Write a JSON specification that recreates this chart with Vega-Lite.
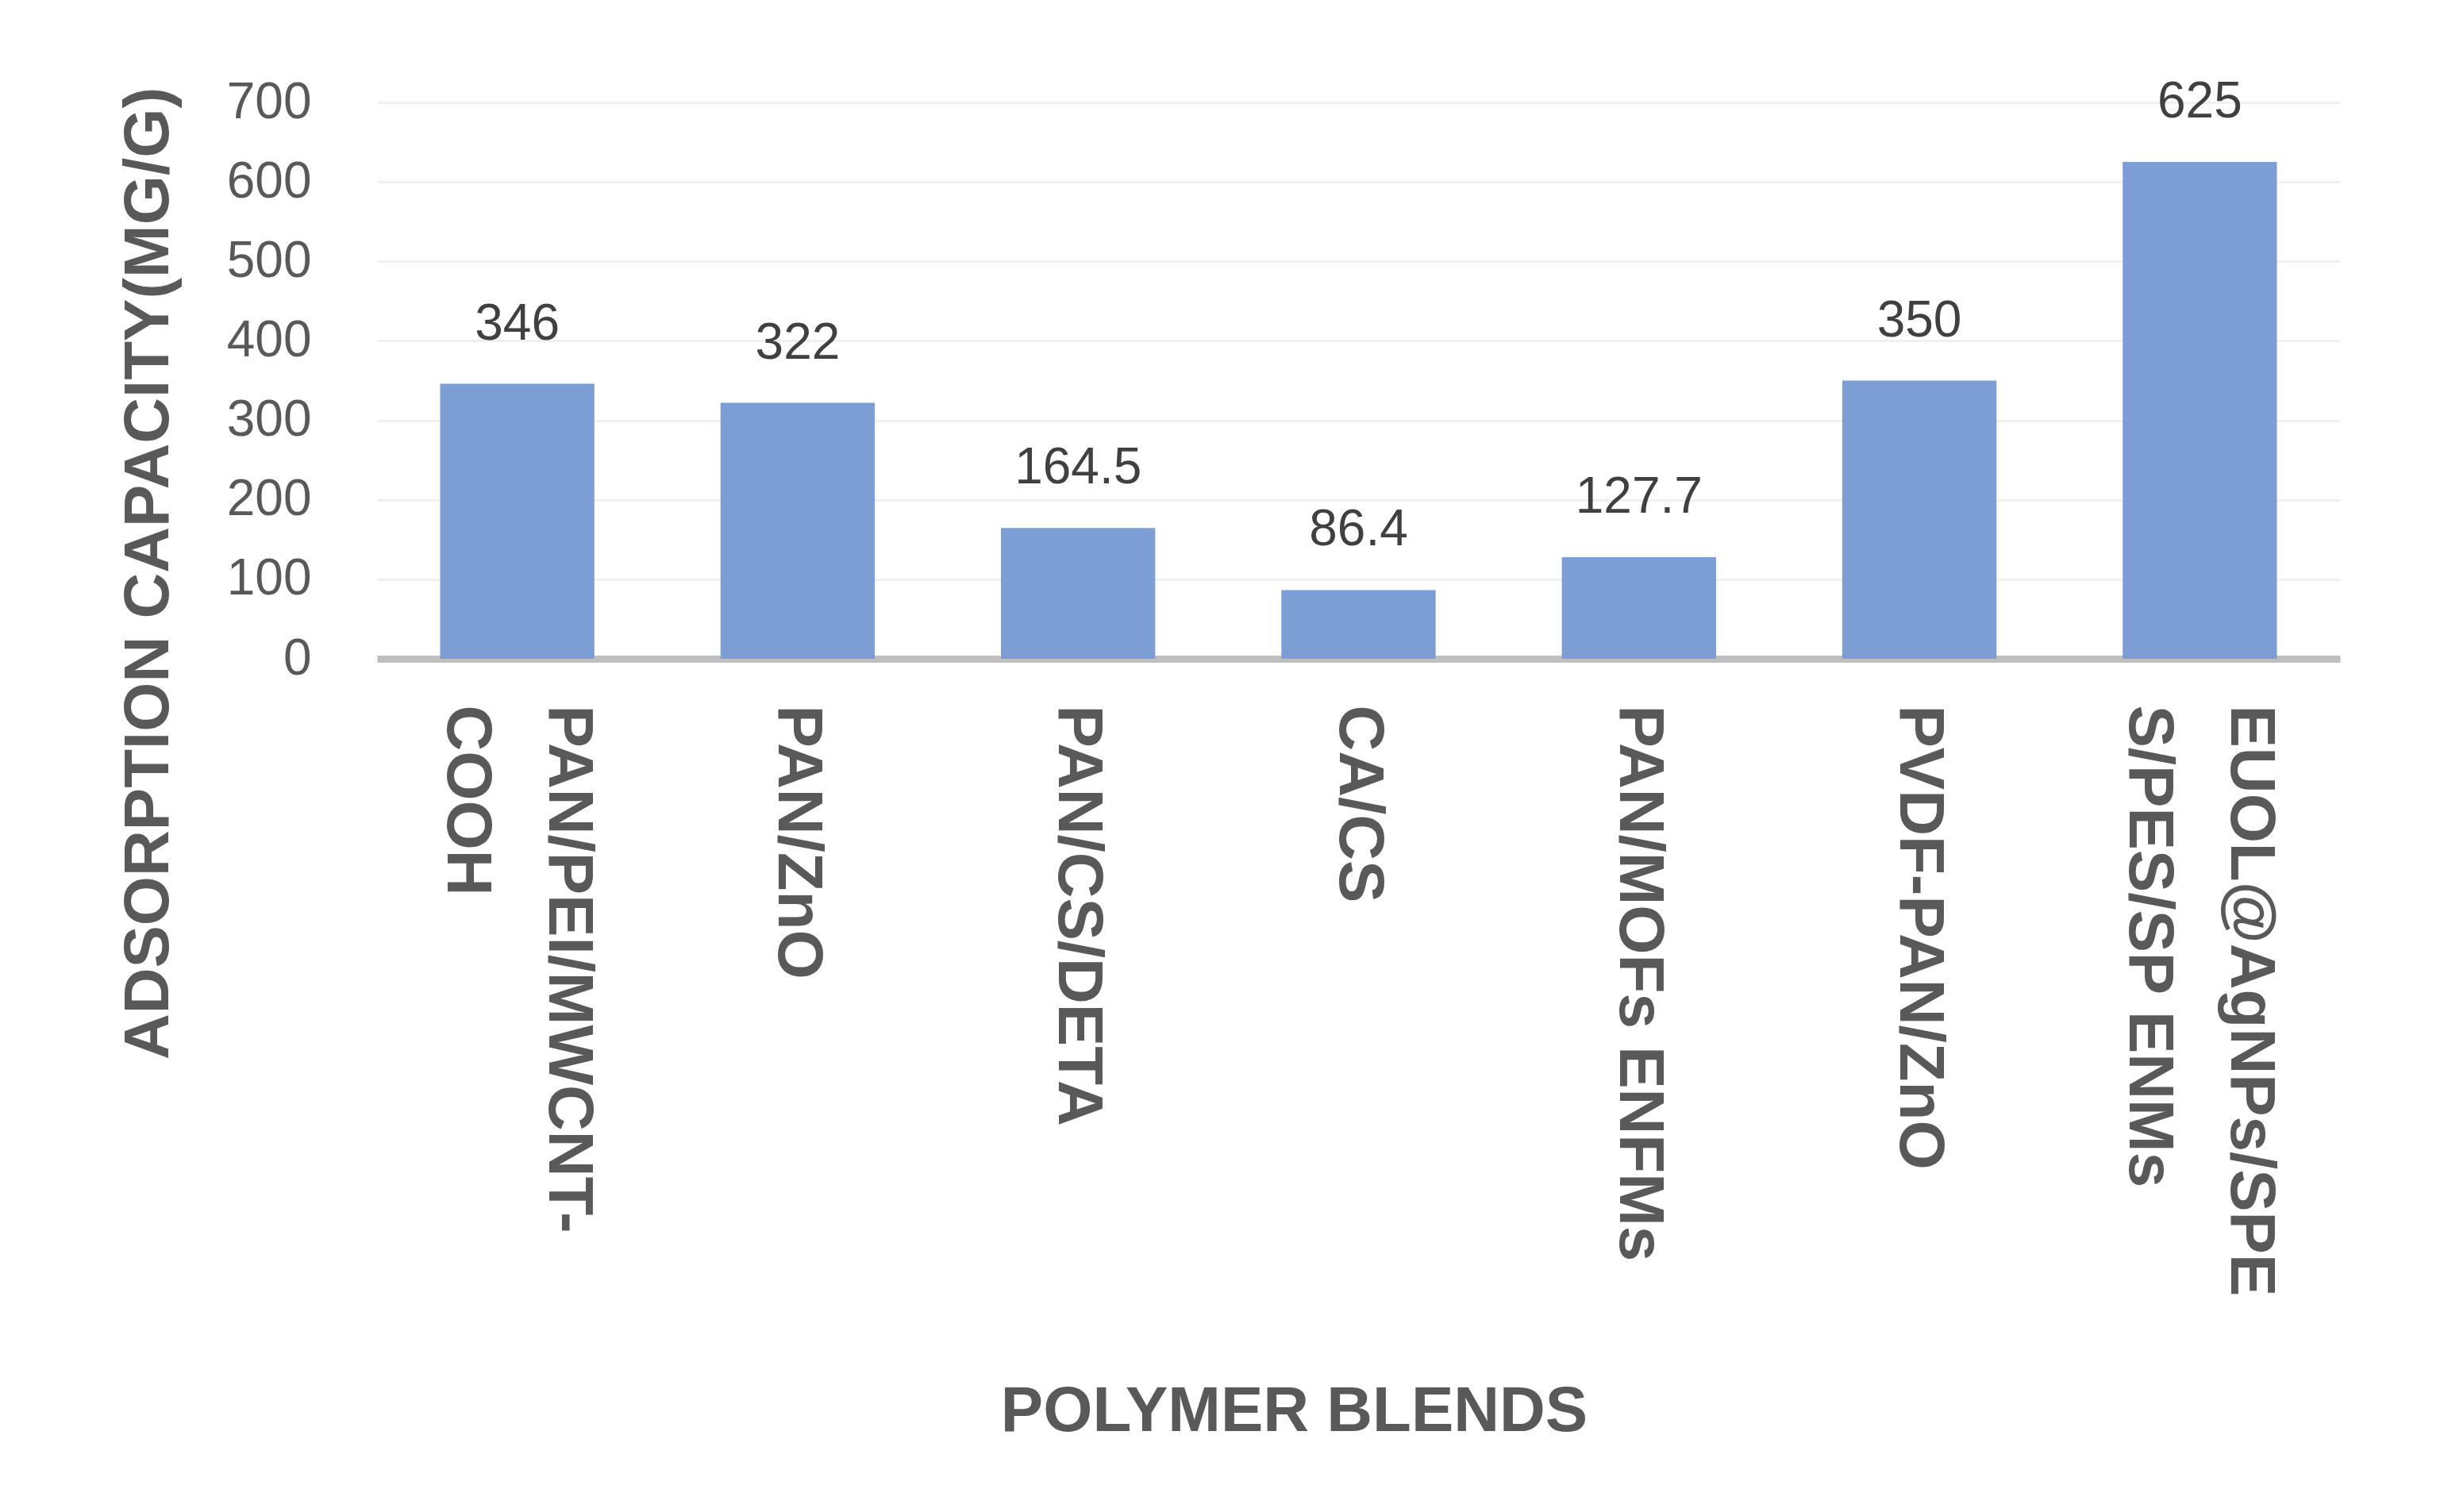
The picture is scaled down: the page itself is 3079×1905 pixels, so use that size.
{
  "$schema": "https://vega.github.io/schema/vega-lite/v6.json",
  "width": 2473,
  "height": 701,
  "autosize": {"type": "none"},
  "padding": {"left": 475, "top": 129, "right": 131, "bottom": 1075},
  "background": "white",
  "config": {"view": {"stroke": null}, "font": "Liberation Sans"},
  "data": {
    "values": [
      {"blend": "PAN/PEI/MWCNT-COOH", "capacity": 346},
      {"blend": "PAN/ZnO", "capacity": 322},
      {"blend": "PAN/CS/DETA", "capacity": 164.5},
      {"blend": "CA/CS", "capacity": 86.4},
      {"blend": "PAN/MOFs ENFMs", "capacity": 127.7},
      {"blend": "PVDF-PAN/ZnO", "capacity": 350},
      {"blend": "EUOL@AgNPs/SPES/PES/SP ENMs", "capacity": 625}
    ]
  },
  "encoding": {
    "x": {
      "field": "blend",
      "type": "nominal",
      "sort": null,
      "scale": {"paddingInner": 0.45, "paddingOuter": 0.225},
      "axis": {
        "title": "POLYMER BLENDS",
        "titleFont": "Liberation Sans",
        "titleFontWeight": "bold",
        "titleFontSize": 80,
        "titleColor": "#595959",
        "titleX": 1155,
        "titleY": 948,
        "titleAlign": "center",
        "titleBaseline": "middle",
        "labelAngle": 90,
        "labelAlign": "left",
        "labelBaseline": "middle",
        "labelFont": "Liberation Sans",
        "labelFontSize": 80,
        "labelFontWeight": "bold",
        "labelColor": "#595959",
        "labelPadding": 58,
        "labelLineHeight": 128,
        "labelLimit": 0,
        "labelOverlap": false,
        "labelFlush": false,
        "labelExpr": "datum.label == 'PAN/PEI/MWCNT-COOH' ? ['PAN/PEI/MWCNT-', 'COOH'] : datum.label == 'EUOL@AgNPs/SPES/PES/SP ENMs' ? ['EUOL@AgNPs/SPE', 'S/PES/SP ENMs'] : datum.label",
        "labelOffset": {
          "condition": {"test": "datum.value == 'PAN/PEI/MWCNT-COOH' || datum.value == 'EUOL@AgNPs/SPES/PES/SP ENMs'", "value": 64},
          "value": 0
        },
        "ticks": false,
        "tickSize": 0,
        "domainColor": "#bfbfbf",
        "domainWidth": 9
      }
    },
    "y": {
      "field": "capacity",
      "type": "quantitative",
      "scale": {"domain": [0, 700]},
      "axis": {
        "values": [0, 100, 200, 300, 400, 500, 600, 700],
        "title": "ADSORPTION CAPACITY(MG/G)",
        "titleFont": "Liberation Sans",
        "titleFontWeight": "bold",
        "titleFontSize": 80,
        "titleColor": "#595959",
        "titleAngle": -90,
        "titleX": -288,
        "titleY": 593,
        "titleAlign": "center",
        "titleBaseline": "middle",
        "labelFont": "Liberation Sans",
        "labelFontSize": 64,
        "labelColor": "#595959",
        "labelPadding": 83,
        "ticks": false,
        "tickSize": 0,
        "domain": false,
        "grid": true,
        "gridColor": "#f0f0f0",
        "gridWidth": 3
      }
    }
  },
  "layer": [
    {"mark": {"type": "bar", "color": "#7d9dd5"}},
    {
      "mark": {"type": "text", "baseline": "bottom", "dy": -43, "font": "Liberation Sans", "fontSize": 64, "color": "#404040"},
      "encoding": {"text": {"field": "capacity", "type": "quantitative"}}
    }
  ]
}
